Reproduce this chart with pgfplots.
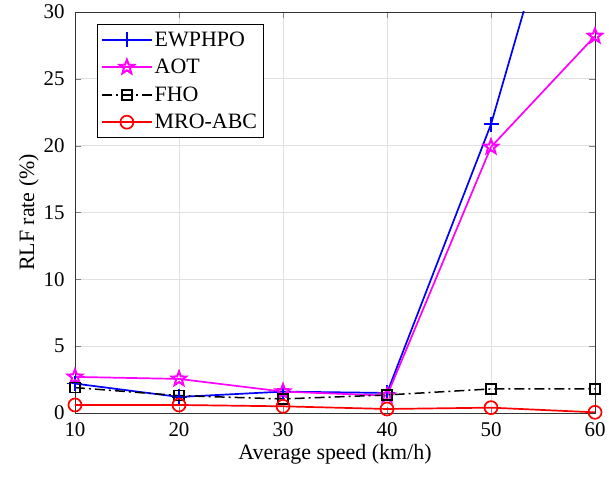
\documentclass[border=0pt]{standalone}
\usepackage{fontspec}
\setmainfont{Liberation Serif}
\usepackage{pgfplots}
\pgfplotsset{compat=1.18}
\definecolor{mblue}{RGB}{0,0,255}
\definecolor{mmag}{RGB}{255,0,255}
\definecolor{mred}{RGB}{255,0,0}
\pgfdeclareplotmark{pentagram}{%
  \pgfpathmoveto{\pgfqpointpolar{90}{\pgfplotmarksize}}%
  \pgfpathlineto{\pgfqpointpolar{126}{0.42\pgfplotmarksize}}%
  \pgfpathlineto{\pgfqpointpolar{162}{\pgfplotmarksize}}%
  \pgfpathlineto{\pgfqpointpolar{198}{0.42\pgfplotmarksize}}%
  \pgfpathlineto{\pgfqpointpolar{234}{\pgfplotmarksize}}%
  \pgfpathlineto{\pgfqpointpolar{270}{0.42\pgfplotmarksize}}%
  \pgfpathlineto{\pgfqpointpolar{306}{\pgfplotmarksize}}%
  \pgfpathlineto{\pgfqpointpolar{342}{0.42\pgfplotmarksize}}%
  \pgfpathlineto{\pgfqpointpolar{18}{\pgfplotmarksize}}%
  \pgfpathlineto{\pgfqpointpolar{54}{0.42\pgfplotmarksize}}%
  \pgfpathclose
  \pgfusepathqstroke
}
\begin{document}
\begin{tikzpicture}
\begin{axis}[
  name=ax,
  scale only axis,
  width=520bp, height=401bp,
  xmin=10, xmax=60, ymin=0, ymax=30,
  xtick={10,20,30,40,50,60},
  ytick={0,5,10,15,20,25,30},
  /pgf/number format/assume math mode=true,
  tick label style={font=\fontsize{21}{24}\selectfont},
  xticklabel style={yshift=-6bp},
  yticklabel style={xshift=-7bp},
  label style={font=\fontsize{22}{25}\selectfont},
  xlabel={Average speed (km/h)},
  ylabel={RLF rate (\%)},
  xlabel style={yshift=-1bp},
  ylabel style={yshift=-2bp},
  tick align=inside,
  major tick length=6bp,
  xtick pos=both, ytick pos=both,
  grid=major,
  major grid style={draw=black!12, line width=0.8bp},
  axis line style={black!80, line width=0.8bp},
  legend style={at={(0.042,0.97)}, anchor=north west, draw=black,
    font=\fontsize{22}{24}\selectfont, fill=white, row sep=7.5bp, inner xsep=4bp, inner ysep=5.5bp},
  legend cell align=left,
  legend image code/.code={\draw[line width=1.7bp,mark repeat=2,mark phase=2] plot coordinates {(0bp,0bp) (25bp,0bp) (50bp,0bp)};},
]
\addplot[mblue, line width=1.7bp, mark=+, mark size=7.5bp, mark options={line width=1.7bp}] coordinates {
(10,2.2) (20,1.2) (30,1.6) (40,1.5) (50,21.6) (60,48.5)};
\addlegendentry{EWPHPO}
\addplot[mmag, line width=1.7bp, mark=pentagram, mark size=7.5bp, mark options={line width=2bp, solid, line join=miter}] coordinates {
(10,2.7) (20,2.55) (30,1.6) (40,1.3) (50,19.9) (60,28.2)};
\addlegendentry{AOT}
\addplot[black, line width=1.5bp, dash pattern=on 10bp off 4bp on 2bp off 4bp, mark=square, mark size=5bp, mark options={solid, line width=1.7bp}] coordinates {
(10,1.9) (20,1.3) (30,1.05) (40,1.35) (50,1.8) (60,1.8)};
\addlegendentry{FHO}
\addplot[mred, line width=1.7bp, mark=o, mark size=6.5bp, mark options={line width=1.7bp}] coordinates {
(10,0.6) (20,0.6) (30,0.5) (40,0.3) (50,0.4) (60,0.05)};
\addlegendentry{MRO-ABC}
\end{axis}
\path[use as bounding box] ([shift={(-75bp,-72bp)}]ax.south west) rectangle ([shift={(14bp,12bp)}]ax.north east);
\end{tikzpicture}
\end{document}
